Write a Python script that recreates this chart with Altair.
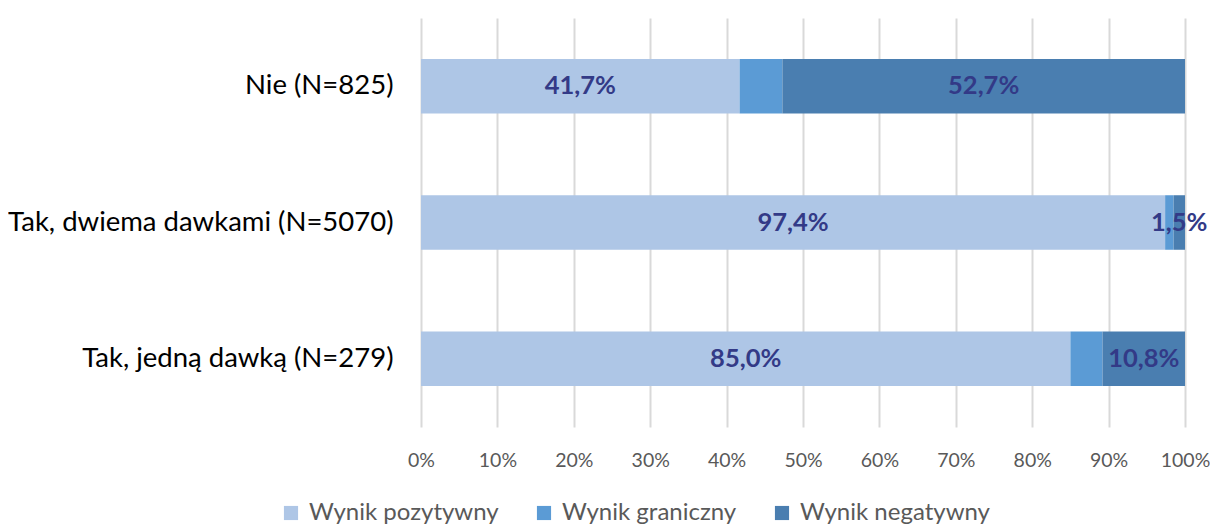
import altair as alt
import pandas as pd

categories = ["Nie (N=825)", "Tak, dwiema dawkami (N=5070)", "Tak, jedną dawką (N=279)"]
series = ["Wynik pozytywny", "Wynik graniczny", "Wynik negatywny"]
positive = [41.7, 97.4, 85.0]
borderline = [5.6, 1.1, 4.2]
negative = [52.7, 1.5, 10.8]
colors = ["#AEC6E6", "#5B9BD5", "#4A7EB0"]
labelled = ["Wynik pozytywny", "Wynik negatywny"]

rows = []
for i, cat in enumerate(categories):
    start = 0.0
    for s, vals in zip(series, [positive, borderline, negative]):
        v = vals[i]
        rows.append({
            "cat": cat, "series": s, "value": v,
            "start": start / 100, "end": (start + v) / 100,
            "mid": (start + v / 2) / 100,
            "label": (f"{v:.1f}".replace(".", ",") + "%") if s in labelled else "",
        })
        start += v
df = pd.DataFrame(rows)

FONT = "Lato"

y_enc = alt.Y("cat:N", sort=categories, title=None,
              scale=alt.Scale(paddingInner=0.6, paddingOuter=0.3),
              axis=alt.Axis(domain=False, ticks=False, labelFontSize=27.5,
                            labelColor="#000000", labelFont=FONT,
                            labelPadding=28, labelLimit=420))

bars = alt.Chart(df).mark_bar(cornerRadius=0).encode(
    x=alt.X("start:Q", title=None,
            scale=alt.Scale(domain=[0, 1], nice=False),
            axis=alt.Axis(format="%", values=[i / 10 for i in range(11)],
                          domain=False, ticks=False, grid=True,
                          gridColor="#D9D9D9", gridWidth=2,
                          labelFontSize=19.5, labelColor="#595959",
                          labelFont=FONT, labelPadding=24, labelFlush=False)),
    x2="end:Q",
    y=y_enc,
    color=alt.Color("series:N", sort=series,
                    scale=alt.Scale(domain=series, range=colors),
                    legend=alt.Legend(title=None, orient="none",
                                      direction="horizontal",
                                      legendX=-142, legendY=483,
                                      symbolType="square", symbolSize=200,
                                      symbolStrokeWidth=0,
                                      labelFontSize=24, labelColor="#595959",
                                      labelFont=FONT, columnPadding=33,
                                      labelOffset=6, labelLimit=300)),
    order=alt.Order("start:Q"),
)

text = alt.Chart(df).mark_text(fontSize=25.5, fontWeight="bold",
                               color="#333A87", font=FONT).encode(
    x="mid:Q",
    y=alt.Y("cat:N", sort=categories),
    text="label:N",
)

chart = (bars + text).properties(
    width=764, height=409,
    autosize=alt.AutoSizeParams(type="none"),
    padding={"left": 413, "top": 10, "right": 25, "bottom": 98},
).configure_view(stroke=None)

chart.save("out.html", embed_options={"renderer": "svg", "actions": False})
